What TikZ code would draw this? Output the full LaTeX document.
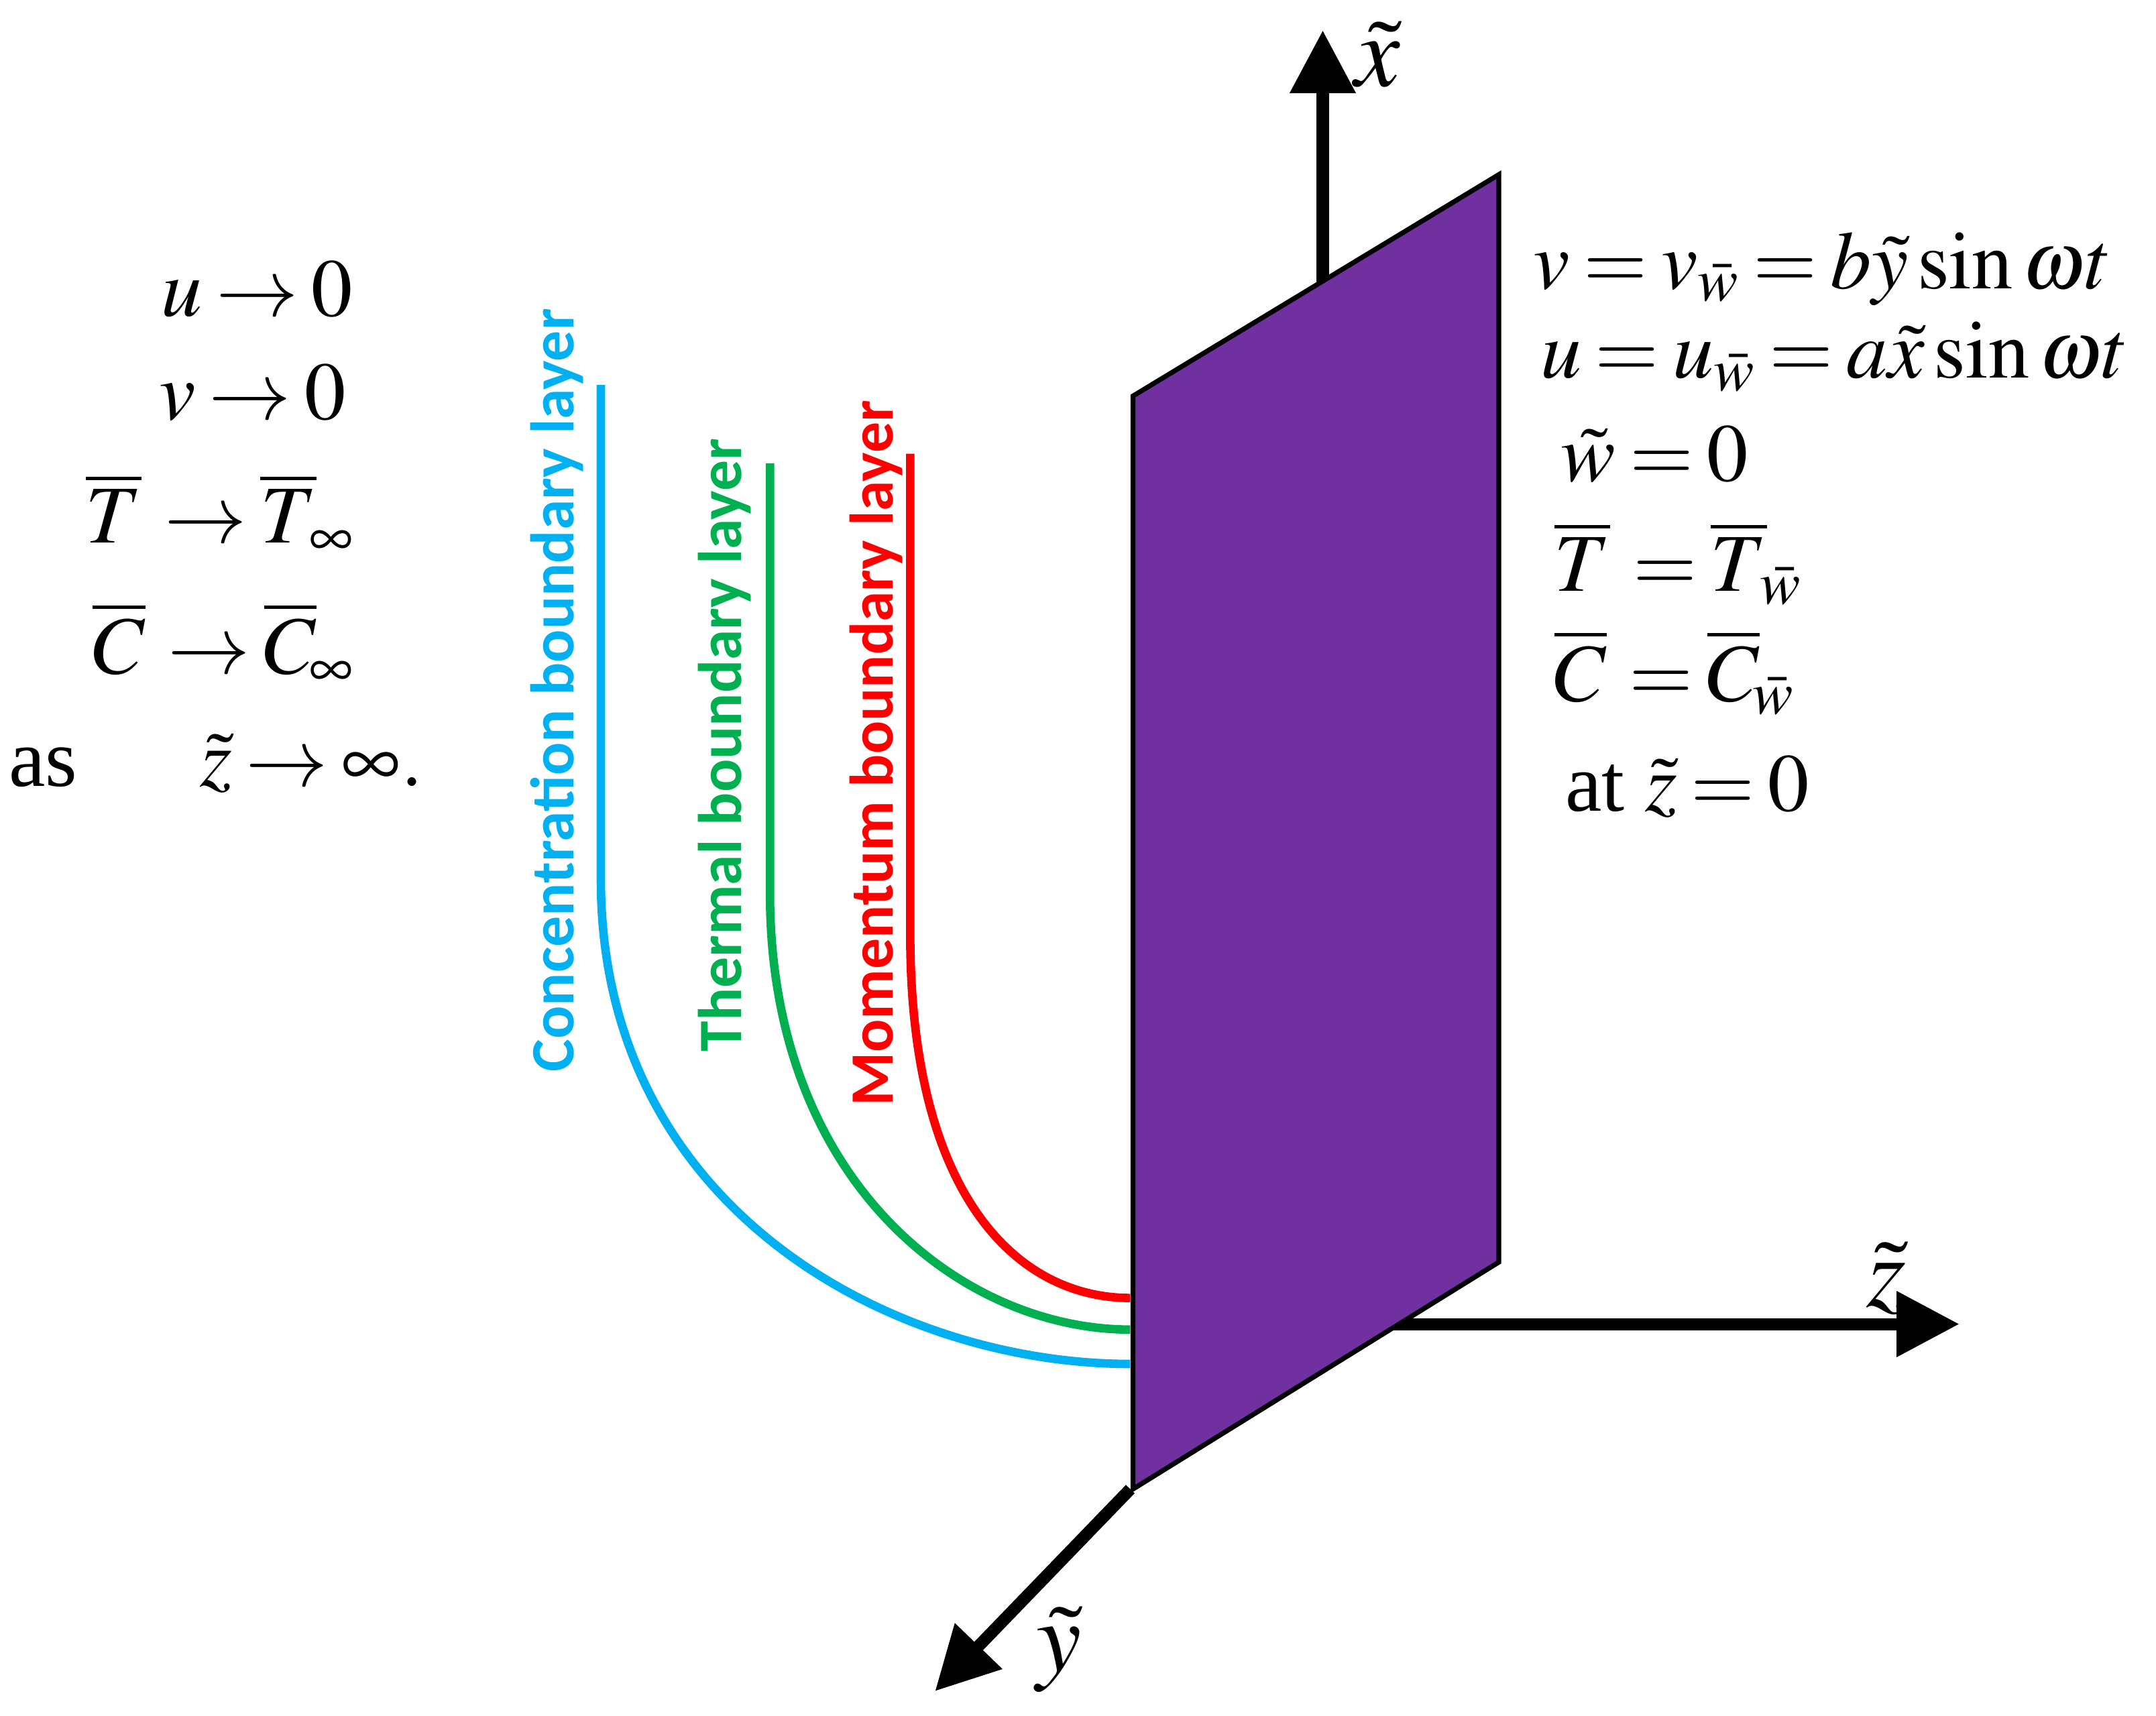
\documentclass[tikz,border=0pt]{standalone}
\usepackage{mathptmx}
\usepackage{fontspec}
\setmainfont{Liberation Serif}
\newfontfamily\lab{Carlito}
\usetikzlibrary{arrows.meta}
\definecolor{plate}{HTML}{7030A0}
\definecolor{cblue}{HTML}{00B0F0}
\definecolor{cgreen}{HTML}{00B050}
\definecolor{cred}{HTML}{FF0000}
\newcommand\eqfont{\fontsize{34}{40}\selectfont\thickmuskip=3mu plus 1mu\relax}
\tikzset{ax/.style={line width=5pt,-{Triangle[length=26pt,width=26pt]}},
 bl/.style={line width=3.5pt},
 bltxt/.style={font=\lab\bfseries\fontsize{25.5}{28}\selectfont,rotate=90,inner sep=0pt},
 eq/.style={font=\eqfont,inner sep=0pt},
 axl/.style={font=\fontsize{42}{48}\selectfont,inner sep=0pt}}
\begin{document}
\begin{tikzpicture}[x=0.02cm,y=-0.02cm]
\useasboundingbox (0,0) rectangle (1568,1248);
% axes
\coordinate (xs) at (962,210); \coordinate (xe) at (962,22);
\coordinate (zs) at (1010,963); \coordinate (ze) at (1425,963);
\coordinate (ys) at (822,1083); \coordinate (ye) at (680,1230);
\draw[ax] (xs) -- (xe);
\draw[ax] (zs) -- (ze);
\draw[ax] (ys) -- (ye);
\node[axl] (xl) at (1002,40) {$\tilde{x}$};
\node[axl] (zl) at (1372,930) {$\tilde{z}$};
\node[axl] (yl) at (770,1200) {$\tilde{y}$};
% plate
\draw[fill=plate,line width=2pt] (824,288) -- (1090,127) -- (1090,918) -- (824,1083) -- cycle;
% boundary layers
\draw[bl,cblue] (437,280) -- (437,640) .. controls (437,880) and (650,992) .. (822,992);
\draw[bl,cgreen] (560,337) -- (560,650) .. controls (560,860) and (700,967) .. (822,967);
\draw[bl,cred] (662,330) -- (662,680) .. controls (662,870) and (740,944) .. (822,944);
\node[bltxt,cblue] (bt) at (405,502) {Concentration boundary layer};
\node[bltxt,cgreen] (gt) at (527,542) {Thermal boundary layer};
\node[bltxt,cred] (rt) at (637,548) {Momentum boundary layer};
% left conditions
\node[eq,anchor=base east] (l1) at (257,230) {$u\rightarrow 0$};
\node[eq,anchor=base east] (l2) at (252,305) {$v\rightarrow 0$};
\node[eq,anchor=base east] (l3) at (258,395) {$\overline{T}\,\rightarrow\overline{T}_{\!\infty}$};
\node[eq,anchor=base east] (l4) at (258,490) {$\overline{C}\,\rightarrow\overline{C}_{\!\infty}$};
\node[eq,anchor=base west] (l5) at (6,572) {as\quad\ \ $\tilde{z}\rightarrow\infty.$};
% right conditions
\node[eq,anchor=base west] (r1) at (1115,210) {$v=v_{\bar{w}}=b\tilde{y}\,\mathrm{sin}\,\omega t$};
\node[eq,anchor=base west] (r2) at (1120,275) {$u=u_{\bar{w}}=a\tilde{x}\,\mathrm{sin}\,\omega t$};
\node[eq,anchor=base west] (r3) at (1135,350) {$\tilde{w}=0$};
\node[eq,anchor=base west] (r4) at (1130,430) {$\overline{T}\,=\overline{T}_{\!\bar{w}}$};
\node[eq,anchor=base west] (r5) at (1130,510) {$\overline{C}\,=\overline{C}_{\!\bar{w}}$};
\node[eq,anchor=base west] (r6) at (1138,590) {at $\tilde{z}=0$};
\end{tikzpicture}
\end{document}
